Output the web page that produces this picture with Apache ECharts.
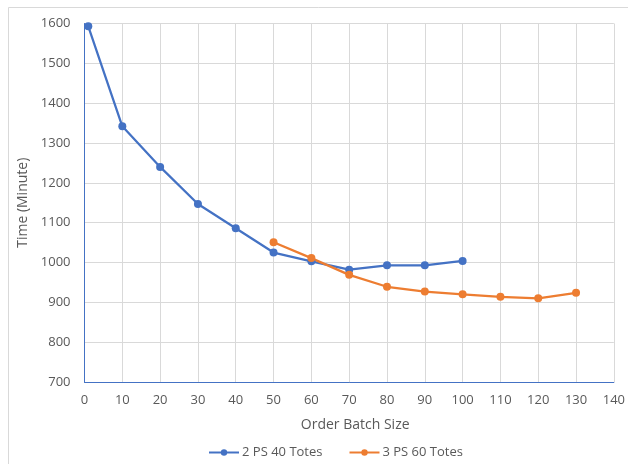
<!DOCTYPE html>
<html><head><meta charset="utf-8">
<script src="https://cdn.jsdelivr.net/npm/echarts@6/dist/echarts.min.js"></script>
<style>html,body{margin:0;padding:0;background:#fff}#c{width:628px;height:464px}</style>
</head><body><div id="c"></div>
<script>
const seriesNames = ["2 PS 40 Totes", "3 PS 60 Totes"];
const xBlue = [1, 10, 20, 30, 40, 50, 60, 70, 80, 90, 100];
const yBlue = [1593, 1342, 1240, 1147, 1086, 1025, 1003, 982, 993, 993, 1004];
const xOrange = [50, 60, 70, 80, 90, 100, 110, 120, 130];
const yOrange = [1051, 1011, 969, 939, 927, 920, 914, 910, 924];
const xAxisName = "Order Batch Size";
const yAxisName = "Time (Minute)";

const pair = (xs, ys) => xs.map((x, i) => [x, ys[i]]);
const font = "'Open Sans', 'Liberation Sans', sans-serif";
const chart = echarts.init(document.getElementById('c'), null, {renderer: 'canvas'});
chart.setOption({
  animation: false,
  backgroundColor: '#fff',
  graphic: [{type: 'rect', shape: {x: 8.5, y: 7.5, width: 640, height: 470}, style: {fill: 'none', stroke: '#D9D9D9', lineWidth: 1}}],
  grid: {left: 84.5, right: 10.5, top: 23.5, bottom: 82, containLabel: false},
  legend: {
    top: 441, left: 203, itemWidth: 30, itemHeight: 8, itemGap: 26,
    textStyle: {color: '#595959', fontSize: 13, fontFamily: font, padding: [0, 0, 0, -2]},
    data: seriesNames
  },
  xAxis: {
    type: 'value', min: 0, max: 140, interval: 10,
    name: xAxisName, nameLocation: 'middle', nameGap: 36,
    nameTextStyle: {color: '#595959', fontSize: 14, fontFamily: font, padding: [0, 0, 0, 12]},
    axisLine: {show: true, onZero: false, lineStyle: {color: '#4472C4', width: 1}},
    axisTick: {show: false},
    axisLabel: {color: '#595959', fontSize: 13, fontFamily: font, margin: 12},
    splitLine: {show: true, lineStyle: {color: '#D9D9D9', width: 1}}
  },
  yAxis: {
    type: 'value', min: 700, max: 1600, interval: 100,
    name: yAxisName, nameLocation: 'middle', nameGap: 48, nameRotate: 90,
    nameTextStyle: {color: '#595959', fontSize: 14, fontFamily: font},
    axisLine: {show: true, onZero: false, lineStyle: {color: '#4472C4', width: 1}},
    axisTick: {show: false},
    axisLabel: {color: '#595959', fontSize: 13, fontFamily: font, margin: 14, formatter: v => String(v)},
    splitLine: {show: true, lineStyle: {color: '#D9D9D9', width: 1}}
  },
  series: [
    {name: seriesNames[0], type: 'line', data: pair(xBlue, yBlue), symbol: 'circle', symbolSize: 8,
     itemStyle: {color: '#4472C4'}, lineStyle: {color: '#4472C4', width: 2.25}},
    {name: seriesNames[1], type: 'line', data: pair(xOrange, yOrange), symbol: 'circle', symbolSize: 8,
     itemStyle: {color: '#ED7D31'}, lineStyle: {color: '#ED7D31', width: 2.25}}
  ]
});
</script></body></html>
